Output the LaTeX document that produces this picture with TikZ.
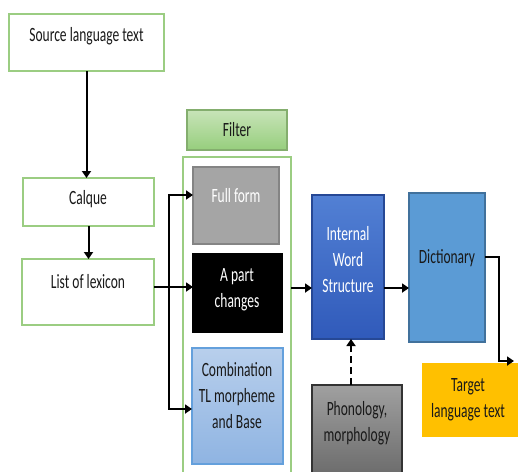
\documentclass[tikz,border=0pt]{standalone}
\usepackage{fontspec}
\usepackage{graphicx}
\setmainfont{Carlito}
\usetikzlibrary{arrows.meta,fit}
\definecolor{gborder}{RGB}{155,205,130}
\definecolor{ftop}{RGB}{200,228,184}
\definecolor{fbot}{RGB}{150,206,125}
\definecolor{fullgray}{RGB}{165,165,165}
\definecolor{combtop}{RGB}{184,207,236}
\definecolor{combbot}{RGB}{143,180,226}
\definecolor{combborder}{RGB}{100,160,220}
\definecolor{inttop}{RGB}{82,128,212}
\definecolor{intbot}{RGB}{48,90,186}
\definecolor{dictfill}{RGB}{91,155,213}
\definecolor{dictborder}{RGB}{65,113,156}
\definecolor{tgt}{RGB}{255,192,0}
\definecolor{phtop}{RGB}{160,160,160}
\definecolor{phbot}{RGB}{105,105,105}
\definecolor{txtdark}{RGB}{25,25,25}
\newcommand{\vt}[1]{\scalebox{1}[1.5]{\begin{tabular}{@{}c@{}}#1\end{tabular}}}
\begin{document}
\begin{tikzpicture}[x=1pt,y=-1pt,
  box/.style={inner sep=0pt,outer sep=0pt,line width=1.2pt},
  greenbox/.style={box,draw=gborder,fill=white},
  txt/.style={inner sep=0pt,font=\fontsize{13.5}{17.5}\selectfont,text=txtdark},
  wtxt/.style={txt,text=white},
  arr/.style={line width=2pt,-{Triangle[length=7pt,width=9pt]}},
  ]
\clip (0,0) rectangle (518,471);
\fill[white] (0,0) rectangle (518,471);
% boxes
\node[greenbox,fit={(9,14) (164,71)}] (src) {};
\node[box,draw=gborder!85!black,top color=ftop,bottom color=fbot,fit={(187,110) (287,150)}] (filter) {};
\node[box,draw=gborder,fit={(183,157) (291,480)}] (cont) {};
\node[greenbox,fit={(23,178) (154,226)}] (calque) {};
\node[greenbox,fit={(22,259) (154,325)}] (list) {};
\node[box,draw=fullgray!80!black,fill=fullgray,fit={(193,167) (279,244)}] (full) {};
\node[box,draw=black,fill=black,fit={(193,254) (282,332)}] (apart) {};
\node[box,draw=combborder,top color=combtop,bottom color=combbot,fit={(192,348) (283,464)}] (comb) {};
\node[box,draw=intbot!80!black,top color=inttop,bottom color=intbot,fit={(312,195) (384,339)}] (internal) {};
\node[box,draw=dictborder,fill=dictfill,fit={(409,193) (485,342)}] (dict) {};
\node[box,fill=tgt,fit={(422,363) (518,437)}] (target) {};
\node[box,draw=black!80,top color=phtop,bottom color=phbot,fit={(312,385) (402,480)}] (phon) {};
% texts
\node[txt] at (86.5,36) {\vt{Source language text}};
\node[txt] at (237,131) {\vt{Filter}};
\node[txt] at (88,199) {\vt{Calque}};
\node[txt] at (88,283) {\vt{List of lexicon}};
\node[wtxt] at (236,197) {\vt{Full form}};
\node[wtxt] at (237,289) {\vt{A part\\changes}};
\node[txt] at (237,397) {\vt{Combination\\TL morpheme\\and Base}};
\node[wtxt] at (348,261) {\vt{Internal\\Word\\Structure}};
\node[txt] at (447,258) {\vt{Dictionary}};
\node[txt] at (468,399) {\vt{Target\\language text}};
\node[txt] at (357,423) {\vt{Phonology,\\morphology}};
% helper coordinates
\coordinate (y195) at (0,195);
\coordinate (y287) at (0,287);
\coordinate (y409) at (0,409);
\coordinate (y288) at (0,288);
\coordinate (y257) at (0,257);
\coordinate (bx) at (169,0);
\coordinate (dx) at (499,0);
\coordinate (tend) at (514,361);
\coordinate (px) at (351,0);
% connectors
\draw[arr] (src.south) -- (src.south |- calque.north);
\draw[arr] (calque.south) -- (calque.south |- list.north);
\draw[arr] (list.east |- y287) -- (apart.west |- y287);
\draw[line width=2pt] (bx |- y287) -- (bx |- y195);
\draw[line width=2pt] (bx |- y287) -- (bx |- y409);
\draw[arr] ([xshift=-1pt]bx |- y195) -- (full.west |- y195);
\draw[arr] ([xshift=-1pt]bx |- y409) -- (comb.west |- y409);
\draw[arr] (cont.east |- y288) -- (internal.west |- y288);
\draw[arr] (internal.east |- y288) -- (dict.west |- y288);
\draw[arr] (dict.east |- y257) -| (dx |- tend) -- (tend);
\draw[arr,dashed,dash pattern=on 7pt off 4pt] (px |- phon.north) -- (px |- internal.south);
\end{tikzpicture}
\end{document}
